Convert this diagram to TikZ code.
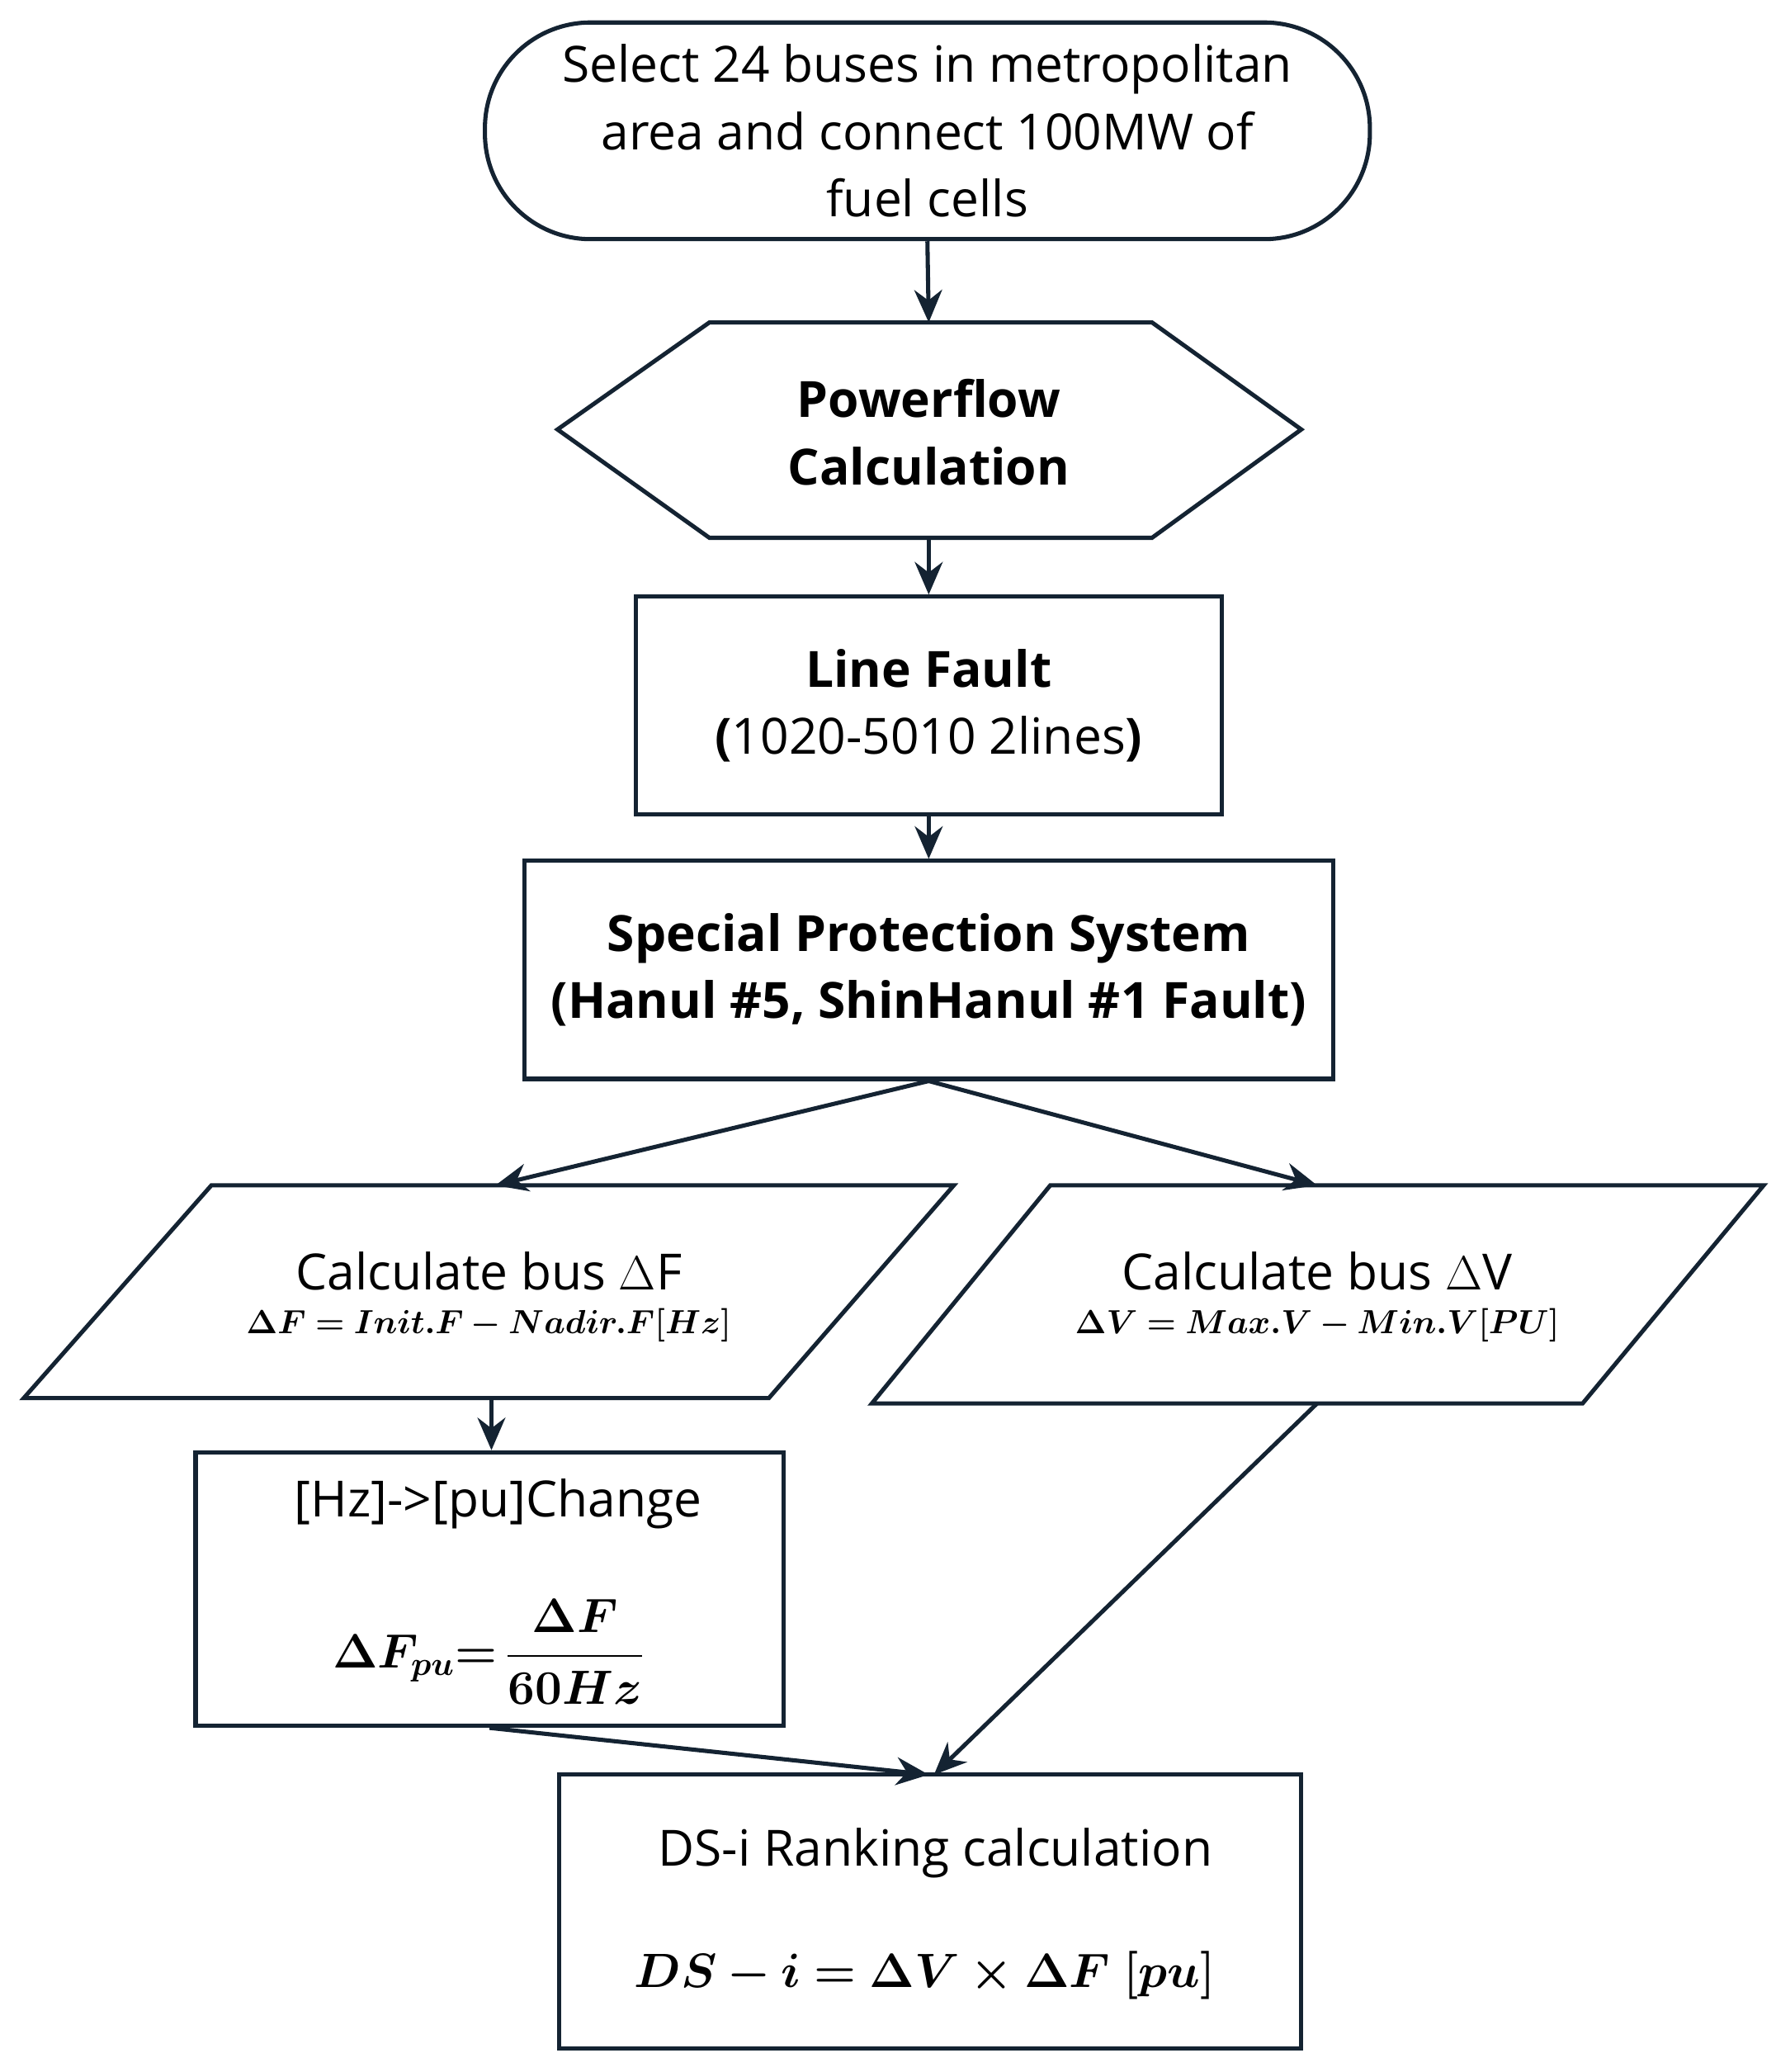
\documentclass[tikz,border=0pt]{standalone}
\usepackage{amsmath,bm}
\usepackage{fontspec}
\setmainfont{Open Sans}
\usetikzlibrary{arrows.meta}
\begin{document}
\begin{tikzpicture}[x=0.02cm,y=-0.02cm,
  ln/.style={line width=1.8pt,draw={rgb,255:red,20;green,35;blue,50}},
  arr/.style={ln,-{Stealth[length=14pt,width=12pt]}},
  txt/.style={font=\fontsize{21.5}{29}\selectfont,align=center},
  btxt/.style={font=\fontsize{21.5}{29}\selectfont\bfseries,align=center},
  fml/.style={font=\fontsize{15}{18}\selectfont}]
\useasboundingbox (0,0) rectangle (1344,1568);
% terminal
\node[ln,rounded corners=1.6cm,minimum width=13.4cm,minimum height=3.28cm,txt] (t) at (702,99) {Select 24 buses in metropolitan\\area and connect 100MW of\\fuel cells};
% hexagon
\draw[ln] (422,325)--(537,244)--(872,244)--(985,325)--(872,407)--(537,407)--cycle;
\node[btxt] (h) at (703,327) {Powerflow\\Calculation};
\coordinate (ht) at (703,244); \coordinate (hb) at (703,407);
% line fault
\node[ln,minimum width=8.88cm,minimum height=3.3cm,txt] (lf) at (703,534) {\textbf{Line Fault}\\\textbf{(}1020-5010 2lines\textbf{)}};
% SPS
\node[ln,minimum width=12.24cm,minimum height=3.3cm,btxt] (sps) at (703,734) {Special Protection System\\(Hanul \#5, ShinHanul \#1 Fault)};
% left parallelogram
\draw[ln] (18,1058)--(160,897)--(722,897)--(582,1058)--cycle;
\node[txt] (pf) at (370,962) {Calculate bus $\Delta$F};
\node[fml] (pff) at (370,1003) {$\bm{\Delta F = Init.F - Nadir.F[Hz]}$};
\coordinate (pft) at (375,897); \coordinate (pfb) at (372,1058);
% right parallelogram
\draw[ln] (660,1062)--(795,897)--(1335,897)--(1198,1062)--cycle;
\node[txt] (pv) at (997,962) {Calculate bus $\Delta$V};
\node[fml] (pvf) at (997,1003) {$\bm{\Delta V = Max.V - Min.V[PU]}$};
\coordinate (pvt) at (997,897); \coordinate (pvb) at (997,1062);
% Hz box
\node[ln,minimum width=8.9cm,minimum height=4.14cm] (hz) at (370.5,1202.5) {};
\node[txt] (hzt) at (377,1138) {[Hz]->[pu]Change};
\node (hzf) at (370,1250) {\fontsize{21}{25}\selectfont $\bm{\Delta F_{pu}{=}\,\dfrac{\Delta F}{60Hz}}$};
% DS box
\node[ln,minimum width=11.24cm,minimum height=4.14cm] (ds) at (704,1446.5) {};
\node[txt] (dst) at (708,1402) {DS-i Ranking calculation};
\node (dsf) at (700,1495) {\fontsize{22}{26}\selectfont $\bm{DS-i=\Delta V\times \Delta F\ [pu]}$};
\coordinate (dsa) at (703,1343); \coordinate (dsb) at (707,1343);
% connectors
\draw[arr] (t.south) -- (ht);
\draw[arr] (hb) -- (lf.north);
\draw[arr] (lf.south) -- (sps.north);
\draw[arr] (sps.south) -- (pft);
\draw[arr] (sps.south) -- (pvt);
\draw[arr] (pfb) -- (hz.north -| pfb);
\draw[arr] (hz.south) -- (dsa);
\draw[arr] (pvb) -- (dsb);
\end{tikzpicture}
\end{document}
